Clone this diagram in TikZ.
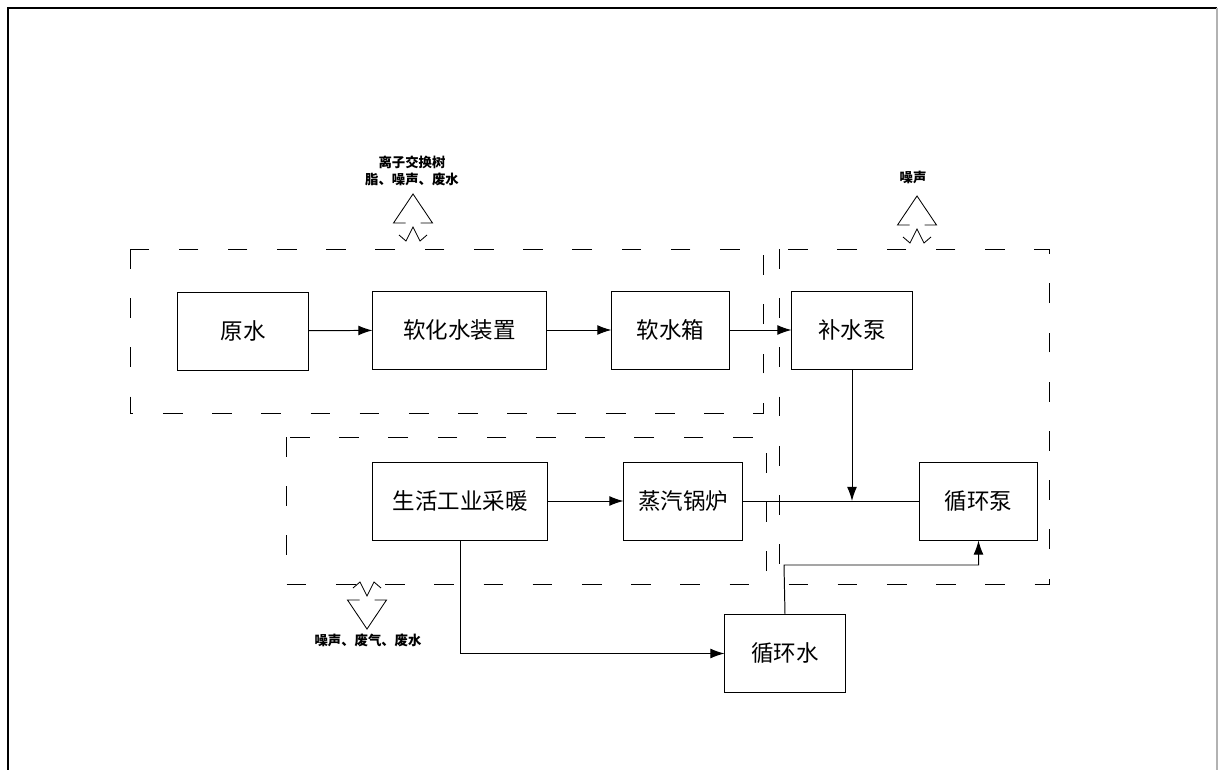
\documentclass[tikz,border=0pt]{standalone}
\usepackage{fontspec}
\setmainfont{Noto Sans CJK SC}
\usepackage{tikz}
\usetikzlibrary{arrows.meta,positioning,calc}

\begin{document}
\begin{tikzpicture}[>=Latex, x=0.025cm, y=-0.025cm,
  procbox/.style={draw, line width=0.7pt, minimum height=1.95cm, inner sep=0pt, font=\fontsize{16}{18}\selectfont},
  flow/.style={->, line width=0.7pt, >={Latex[length=10pt,width=7pt]}},
  plain/.style={line width=0.7pt},
  zone/.style={line width=0.7pt, dash pattern=on 14pt off 21pt},
  emitlabel/.style={font=\fontsize{9.5}{12}\bfseries\selectfont, align=center, inner sep=0pt},
  emitup/.pic={
    \draw[line width=0.6pt] (-7.5,0) -- (-19.5,0) -- (0,-29) -- (19.5,0) -- (7.5,0);
    \draw[line width=0.6pt] (-14,12) -- (-7,18) -- (0,4) -- (7,18) -- (14,12);
  }]
\useasboundingbox (0,0) rectangle (1219,770);
% frame
\draw[line width=1.6pt] (8,770) -- (8,8) -- (1217,8);
\draw[line width=0.8pt, gray!60] (1217,8) -- (1217,770);

% zones
\draw[zone] (130,249) rectangle (763,413);
\draw[zone] (779,249) rectangle (1049,584);
\draw[zone] (286,437) rectangle (766,584);

% process boxes
\node[procbox, minimum width=3.25cm] (yuanshui) at (243,331) {原水};
\node[procbox, minimum width=4.33cm] (ruanhua) at (459.5,330) {软化水装置};
\node[procbox, minimum width=2.93cm] (ruanxiang) at (670.5,330) {软水箱};
\node[procbox, minimum width=3.0cm] (bushui) at (852,330) {补水泵};
\node[procbox, minimum width=4.38cm] (cainuan) at (460,501) {生活工业采暖};
\node[procbox, minimum width=2.95cm] (guolu) at (683,501) {蒸汽锅炉};
\node[procbox, minimum width=2.93cm] (xhbeng) at (978.5,501) {循环泵};
\node[procbox, minimum width=3.0cm] (xhshui) at (785,653.5) {循环水};
\coordinate (junc) at (bushui.south |- guolu.east);
\coordinate (bend) at (784,565);

% connectors
\draw[flow] (yuanshui) -- (ruanhua);
\draw[flow] (ruanhua) -- (ruanxiang);
\draw[flow] (ruanxiang) -- (bushui);
\draw[flow] (cainuan) -- (guolu);
\draw[plain] (guolu.east) -- (xhbeng.west);
\draw[flow] (bushui.south) -- (junc);
\draw[flow] (cainuan.south) |- (xhshui.west);
\draw[flow] (xhshui.north) -- (bend) -| (xhbeng.south);

% emissions
\pic at (413,223) {emitup};
\node[emitlabel] (emitA) at (412,171) {离子交换树\\脂、噪声、废水};
\pic at (917,225) {emitup};
\node[emitlabel] (emitB) at (913,177) {噪声};
\pic[rotate=180] at (367,600) {emitup};
\node[emitlabel] (emitC) at (368,640) {噪声、废气、废水};
\end{tikzpicture}
\end{document}
